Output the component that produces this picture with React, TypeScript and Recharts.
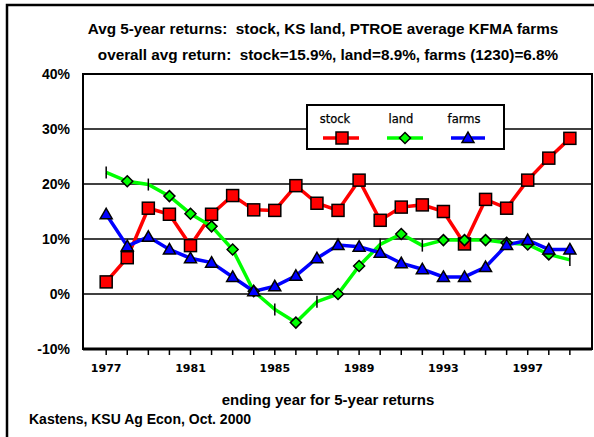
import React from "react";
import { CartesianGrid, Line, LineChart, ReferenceArea, XAxis, YAxis } from "recharts";

const years = [
  1977, 1978, 1979, 1980, 1981, 1982, 1983, 1984, 1985, 1986, 1987, 1988,
  1989, 1990, 1991, 1992, 1993, 1994, 1995, 1996, 1997, 1998, 1999,
];
const stock = [
  2.2, 6.6, 15.6, 14.5, 8.8, 14.5, 17.9, 15.3, 15.2, 19.7, 16.5, 15.2,
  20.7, 13.4, 15.8, 16.2, 15.0, 9.1, 17.2, 15.6, 20.7, 24.7, 28.3,
];
const land = [
  22.1, 20.5, 19.9, 17.8, 14.6, 12.3, 8.1, 0.5, -2.8, -5.2, -1.4, 0.0,
  5.1, 9.0, 10.9, 8.8, 9.8, 9.8, 9.8, 9.3, 9.0, 7.2, 6.2,
];
const farms = [
  14.5, 8.7, 10.4, 8.1, 6.5, 5.7, 3.1, 0.5, 1.4, 3.3, 6.5, 8.9,
  8.6, 7.5, 5.6, 4.5, 3.1, 3.1, 4.9, 8.9, 9.8, 8.1, 8.1,
];
// years where the land marker shows up as a plain dash in the original
const landDashYears = [1977, 1979, 1985, 1987, 1990, 1992, 1999];
const yearLabels = [1977, 1981, 1985, 1989, 1993, 1997];
const yTicks = [-10, 0, 10, 20, 30, 40];

const data = years.map((year, i) => ({
  year,
  stock: stock[i],
  land: land[i],
  farms: farms[i],
}));

const arial = "'Liberation Sans', Arial, sans-serif";
const dejavu = "'DejaVu Sans', Verdana, sans-serif";

function square(cx: number, cy: number, key?: string | number) {
  return (
    <rect key={key} x={cx - 6} y={cy - 6} width={12} height={12} fill="#ff0000" stroke="#000" strokeWidth={1.5} />
  );
}

function diamond(cx: number, cy: number, key?: string | number) {
  return (
    <path
      key={key}
      d={`M${cx},${cy - 5.5}L${cx + 5.5},${cy}L${cx},${cy + 5.5}L${cx - 5.5},${cy}Z`}
      fill="#00ff00"
      stroke="#000"
      strokeWidth={1.5}
    />
  );
}

function triangle(cx: number, cy: number, key?: string | number) {
  return (
    <path
      key={key}
      d={`M${cx},${cy - 6}L${cx + 6},${cy + 4.5}L${cx - 6},${cy + 4.5}Z`}
      fill="#0000ff"
      stroke="#000"
      strokeWidth={1.5}
    />
  );
}

const stockDot = (p: any) => square(p.cx, p.cy, `s${p.index}`);
const farmsDot = (p: any) => triangle(p.cx, p.cy, `f${p.index}`);
const landDot = (p: any) => {
  if (landDashYears.includes(p.payload.year)) {
    return (
      <line key={`l${p.index}`} x1={p.cx} x2={p.cx} y1={p.cy - 6} y2={p.cy + 6} stroke="#000" strokeWidth={1.5} />
    );
  }
  return diamond(p.cx, p.cy, `l${p.index}`);
};

function Overlay() {
  return (
    <svg width={594} height={437} style={{ position: "absolute", left: 0, top: 0, pointerEvents: "none" }}>
      <path d="M7,437V5H594" fill="none" stroke="#000" strokeWidth={2.5} />
      <g fontFamily={arial} fontWeight="bold" fill="#000">
        <text x={323} y={34} fontSize={15.3} textAnchor="middle" xmlSpace="preserve">
          {"Avg 5-year returns:  stock, KS land, PTROE average KFMA farms"}
        </text>
        <text x={328} y={60} fontSize={15.3} textAnchor="middle" xmlSpace="preserve">
          {"overall avg return:  stock=15.9%, land=8.9%, farms (1230)=6.8%"}
        </text>
        <text x={328} y={405} fontSize={15} textAnchor="middle">
          ending year for 5-year returns
        </text>
        <text x={29} y={424} fontSize={14}>
          Kastens, KSU Ag Econ, Oct. 2000
        </text>
      </g>
      <g>
        <rect x={307} y={105} width={197} height={44} fill="#fff" stroke="#000" strokeWidth={2} />
        <g fontFamily={dejavu} fontSize={11.5} fill="#000" stroke="#000" strokeWidth={0.25} textAnchor="middle">
          <text x={335} y={123}>stock</text>
          <text x={401} y={123}>land</text>
          <text x={464} y={123}>farms</text>
        </g>
        <line x1={323} x2={359} y1={138} y2={138} stroke="#ff0000" strokeWidth={3.5} />
        {square(342, 138)}
        <line x1={387} x2={423} y1={138} y2={138} stroke="#00ff00" strokeWidth={3.5} />
        {diamond(405, 138)}
        <line x1={451} x2={485} y1={138} y2={138} stroke="#0000ff" strokeWidth={3.5} />
        {triangle(468, 138)}
      </g>
    </svg>
  );
}

export default function App() {
  return (
    <div style={{ position: "relative", width: 594, height: 437, background: "#fff" }}>
      <style>{"body{margin:0}"}</style>
      <LineChart width={594} height={437} data={data} margin={{ top: 74, right: 2, bottom: 58, left: 23 }}>
        <CartesianGrid vertical={false} stroke="#000" strokeWidth={1.5} />
        <XAxis
          dataKey="year"
          type="number"
          domain={[1975.9, 2000.05]}
          allowDataOverflow
          ticks={years}
          interval={0}
          height={30}
          tickFormatter={(v: number) => (yearLabels.includes(v) ? String(v) : "")}
          axisLine={{ stroke: "#000", strokeWidth: 3 }}
          tickLine={{ stroke: "#000", strokeWidth: 1.5 }}
          tickSize={6}
          tickMargin={9}
          tick={{ fill: "#000", fontSize: 11, fontWeight: "bold", fontFamily: dejavu }}
        />
        <YAxis
          domain={[-10, 40]}
          ticks={yTicks}
          width={60}
          axisLine={false}
          tickLine={false}
          tickSize={5}
          tickMargin={8}
          tickFormatter={(v: number) => `${v}%`}
          tick={{ fill: "#000", fontSize: 14, fontWeight: "bold", fontFamily: arial }}
        />
        <ReferenceArea x1={1975.9} x2={2000.05} y1={-10} y2={40} fill="none" stroke="#000" strokeWidth={2} ifOverflow="visible" />
        <Line dataKey="stock" stroke="#ff0000" strokeWidth={3.5} dot={stockDot} isAnimationActive={false} />
        <Line dataKey="land" stroke="#00ff00" strokeWidth={3.5} dot={landDot} isAnimationActive={false} />
        <Line dataKey="farms" stroke="#0000ff" strokeWidth={3.5} dot={farmsDot} isAnimationActive={false} />
      </LineChart>
      <Overlay />
    </div>
  );
}
